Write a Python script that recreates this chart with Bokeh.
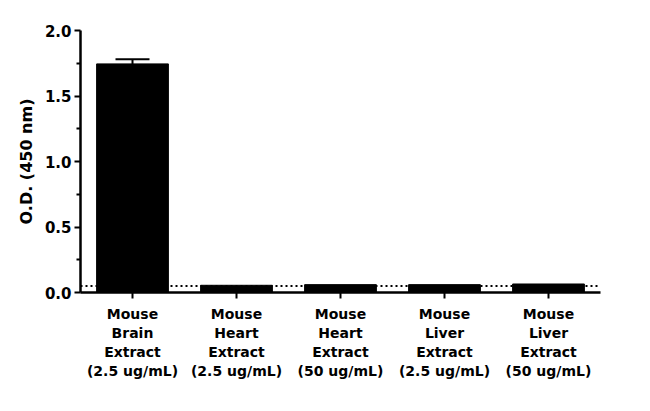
from bokeh.plotting import figure
from bokeh.models import Range1d, FixedTicker, Span, Whisker, ColumnDataSource, TeeHead, CustomJSTickFormatter
from bokeh.embed import file_html
from bokeh.resources import INLINE

categories = [
    "Mouse\nBrain\nExtract\n(2.5 ug/mL)",
    "Mouse\nHeart\nExtract\n(2.5 ug/mL)",
    "Mouse\nHeart\nExtract\n(50 ug/mL)",
    "Mouse\nLiver\nExtract\n(2.5 ug/mL)",
    "Mouse\nLiver\nExtract\n(50 ug/mL)",
]
values = [1.745, 0.055, 0.06, 0.06, 0.065]
errors = [0.035, 0.0, 0.0, 0.0, 0.0]
baseline = 0.05
y_ticks = [0, 0.5, 1.0, 1.5, 2.0]
y_minor = [0.25, 0.75, 1.25, 1.75]

FONT = "DejaVu Sans"

p = figure(x_range=categories, y_range=Range1d(0, 2.0),
           frame_width=520, frame_height=262,
           min_border_left=80, min_border_right=40, min_border_top=30, min_border_bottom=105,
           output_backend="svg", toolbar_location=None)
p.x_range.range_padding = 0
p.outline_line_color = None
p.grid.visible = False

src = ColumnDataSource(dict(x=categories, top=values))

span = Span(location=baseline, dimension="width", line_color="black",
            line_width=2, line_dash="2 3", level="underlay")
p.add_layout(span)

p.vbar(x="x", top="top", width=0.69, source=src, fill_color="black", line_color="black")

esrc = ColumnDataSource(dict(x=[categories[0]], lo=[values[0]], up=[values[0] + errors[0]]))
w = Whisker(base="x", lower="lo", upper="up", source=esrc, line_width=2, line_color="black",
            upper_head=TeeHead(size=34, line_width=2, line_color="black"), lower_head=None)
p.add_layout(w)

p.yaxis.ticker = FixedTicker(ticks=y_ticks, minor_ticks=y_minor)
p.yaxis.formatter = CustomJSTickFormatter(code="return tick.toFixed(1);")
p.yaxis.axis_label = "O.D. (450 nm)"

for ax in (p.xaxis, p.yaxis):
    ax.axis_line_width = 2.5
    ax.axis_line_color = "black"
    ax.major_tick_line_width = 2
    ax.major_tick_in = 0
    ax.major_tick_out = 6
    ax.minor_tick_line_width = 2
    ax.minor_tick_in = 0
    ax.minor_tick_out = 4
    ax.major_label_text_font = FONT
    ax.major_label_text_font_style = "bold"
    ax.major_label_text_color = "black"
    ax.axis_label_text_font = FONT
    ax.axis_label_text_font_style = "bold"
    ax.axis_label_text_color = "black"

p.yaxis.major_label_text_font_size = "15px"
p.yaxis.axis_label_text_font_size = "16px"
p.yaxis.axis_label_standoff = 6
p.yaxis.major_label_standoff = 3
p.xaxis.major_label_text_font_size = "14px"
p.xaxis.major_label_text_line_height = 1.2
p.xaxis.major_label_standoff = 7
p.xaxis.major_label_orientation = "horizontal"

open("out.html", "w").write(file_html(p, INLINE))
